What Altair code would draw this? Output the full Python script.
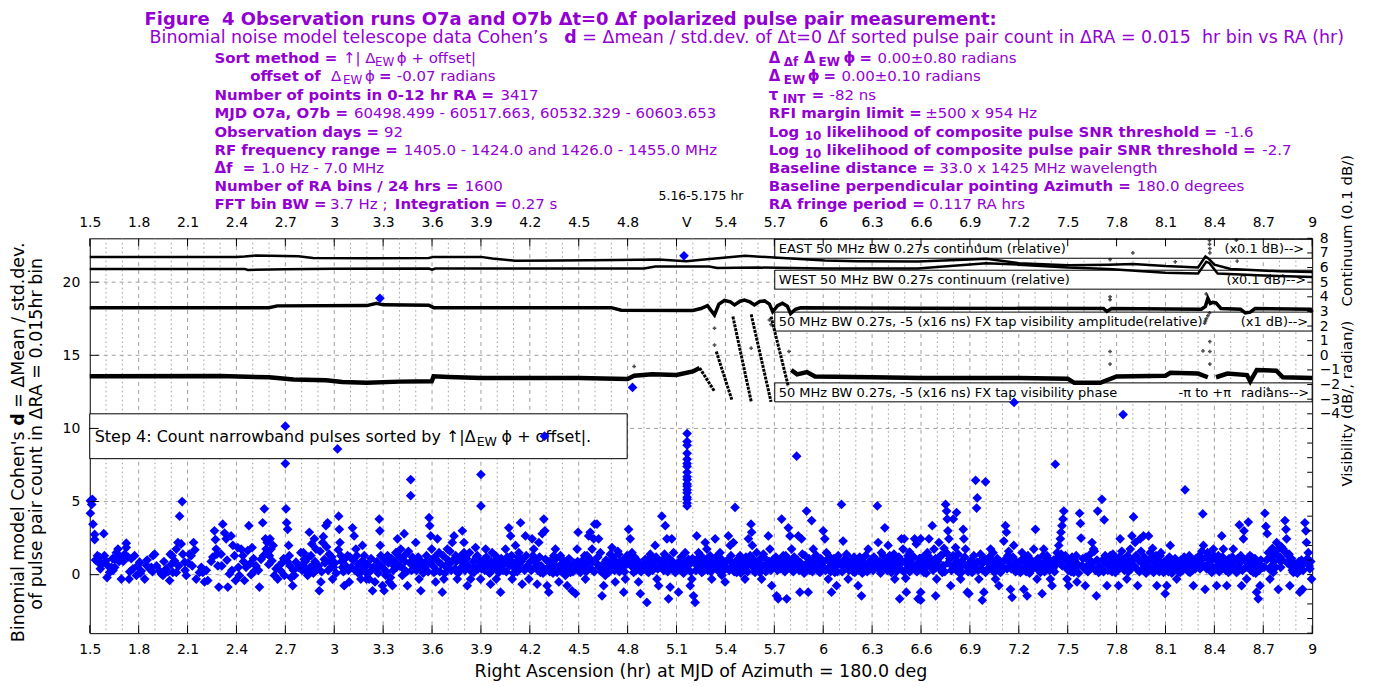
import altair as alt
import pandas as pd

OX, OY = 90, 238          # page position of the plot area
W, H = 1226, 396
PURPLE = '#9400d3'
FONT = 'DejaVu Sans'

# ---------------- Cohen's d scatter (RA hr, d) ----------------
SC_A = [(1.504,5.05),(1.516,5.15),(1.512,4.8),(1.504,4.2),(1.52,3.45),(1.53,2.75),(1.53,2.4),(1.547,1.3),(1.551,0.85),(1.561,1.2),(1.571,0.7),(1.586,2.8),(1.598,0.95),(1.606,-0.2),
(1.622,0.15),(1.633,0.5),(1.643,0.3),(1.653,1.05),(1.663,1.5),(1.673,1.75),(1.684,1.2),(1.694,-0.3),(1.653,0.5),
(1.714,1.4),(1.724,2.15),(1.724,1.85),(1.735,1.2),(1.741,-0.3),(1.755,1.1),(1.765,0.4),(1.786,-0.05),(1.792,0.6),
(1.806,0.85),(1.816,0.25),(1.837,-0.3),(1.847,0.65),(1.867,0.4),(1.878,0.5),(1.888,1.3),(1.898,1.4),
(1.929,0.25),(1.939,0.05),(1.949,-0.05),(1.969,0.4),(1.99,-0.4),(1.994,1.4),(2.0,0.7),
(2.01,0.15),(2.02,0.95),(2.031,1.75),(2.041,2.2),(2.051,4.0),(2.067,5.0),(2.061,2.1),(2.071,1.4),(2.082,0.85),(2.092,-0.05),(2.031,0.15),
(2.112,1.4),(2.122,1.3),(2.129,0.6),(2.137,2.2),(2.153,-0.3),(2.173,0.15),(2.194,0.15),
(2.204,-0.5),(2.224,-0.4),(2.255,1.2),(2.265,3.0),(2.271,2.4),(2.276,1.75),(2.286,0.6),(2.292,-0.85),
(2.306,1.4),(2.316,3.45),(2.327,2.85),(2.337,2.45),(2.347,-0.85),(2.357,0.05),(2.367,2.65),(2.378,2.0),(2.388,1.3),(2.394,-0.4),
(2.408,1.85),(2.418,-0.05),(2.429,1.75),(2.439,1.3),(2.449,-0.4),(2.459,0.5),(2.469,1.65),(2.476,3.35),(2.484,0.75),(2.496,1.85),
(2.51,0.25),(2.52,0.6),(2.541,-0.85),(2.551,1.05),(2.561,3.55),(2.571,4.5),(2.578,2.45),(2.582,1.75),(2.592,1.4),(2.598,0.7),
(2.606,2.45),(2.612,1.75),(2.618,0.95),(2.633,-0.05),(2.643,0.4),(2.653,-0.3),(2.673,0.25),(2.684,0.85),(2.694,-0.05),
(2.7,10.15),(2.7,7.6),(2.704,4.5),(2.708,3.55),(2.714,3.1),(2.72,2.0),(2.724,1.3),(2.729,0.6),(2.735,-0.2),(2.745,-0.75),(2.755,-0.05),(2.765,0.85),
(2.806,0.7),(2.816,1.05),(2.827,0.4),(2.837,-0.05),(2.847,2.9),(2.857,1.3),(2.867,0.6),(2.878,2.45),(2.888,1.75),
(2.908,-1.1),(2.918,-0.5),(2.929,2.2),(2.939,1.05),(2.949,3.35),(2.959,3.55),(2.969,1.4),(2.98,0.5),(2.99,-0.3)]

SC_B = [(3.02,8.6),(3.027,4.0),(3.031,3.1),(3.035,2.2),(3.041,1.3),(3.051,0.5),(3.061,-0.75),(3.082,1.3),(3.092,-0.5),
(3.112,3.2),(3.122,2.65),(3.133,1.75),(3.143,0.15),(3.163,-0.3),(3.173,2.0),(3.184,1.3),(3.194,0.15),
(3.214,-0.3),(3.235,-1.1),(3.255,0.4),(3.276,3.8),(3.28,3.0),(3.282,2.0),(3.286,1.3),(3.296,-0.75),(3.28,18.9),
(3.306,-1.1),(3.316,-0.05),(3.327,1.3),(3.337,-0.5),(3.357,-0.75),(3.367,0.6),(3.378,1.5),(3.388,2.45),
(3.408,1.75),(3.418,-0.05),(3.429,2.8),(3.439,1.4),(3.449,-0.75),(3.469,6.5),(3.469,5.4),(3.48,1.2),(3.49,0.4),(3.5,2.2),
(3.51,0.85),(3.52,-0.3),(3.531,-1.1),(3.541,0.4),(3.561,0.85),(3.582,3.9),(3.586,3.35),(3.592,2.65),(3.598,1.75),
(3.602,1.05),(3.612,0.15),(3.622,-0.5),(3.633,2.45),(3.643,1.5),(3.663,-1.2),(3.673,-0.3),(3.684,0.6),(3.694,1.75),
(3.724,2.2),(3.735,2.65),(3.745,1.3),(3.755,-0.3),(3.786,3.0),
(3.796,2.2),(3.796,1.5),(3.806,0.6),(3.816,-0.75),(3.837,-0.3),(3.857,0.15),(3.867,1.85),(3.878,1.3),(3.888,0.85),(3.9,6.85),(3.9,4.7),(3.898,-0.3),
(3.918,1.05),(3.929,1.75),(3.939,0.6),(3.949,0.15),(3.959,-0.65),(3.969,1.5),(3.98,0.85),(3.99,1.3),(3.994,-0.3),
(4.01,0.15),(4.02,-1.2),(4.031,0.6),(4.051,1.75),(4.071,3.2),(4.082,2.65),(4.088,1.3),(4.092,-0.3),(4.096,0.6),
(4.112,2.0),(4.133,1.5),(4.143,3.55),(4.153,-0.65),(4.163,0.4),(4.173,2.65),(4.184,0.6),(4.194,-0.3),
(4.214,2.45),(4.224,1.75),(4.235,1.05),(4.245,-0.65),(4.255,2.2),(4.265,0.15),(4.276,2.8),(4.286,3.8),(4.292,3.0),(4.296,1.05),(4.29,9.47),
(4.306,-0.75),(4.316,-1.2),(4.327,0.6),(4.347,1.3),(4.357,1.75),(4.367,0.15),(4.378,-0.5),(4.388,1.3),
(4.408,0.6),(4.418,-0.05),(4.429,-0.75),(4.449,0.15),(4.459,-1.1),(4.48,-1.3),(4.49,1.75),(4.496,2.9)]

SC_C = [(4.51,0.15),(4.52,0.85),(4.541,-0.3),(4.551,1.3),(4.561,2.65),(4.571,2.9),(4.582,1.75),(4.592,2.45),(4.598,3.45),
(4.612,3.45),(4.622,2.45),(4.633,1.5),(4.643,-1.45),(4.653,-0.75),(4.663,-0.05),(4.673,0.6),(4.684,0.15),(4.694,1.4),
(4.704,1.85),(4.714,0.6),(4.724,-0.5),(4.745,1.4),(4.765,0.85),(4.776,-1.2),(4.786,-0.3),(4.796,1.3),
(4.806,3.1),(4.816,2.45),(4.827,1.5),(4.837,0.15),(4.847,0.7),(4.867,-0.5),(4.878,-1.3),(4.888,0.4),(4.83,12.8),
(4.908,1.05),(4.918,-1.9),(4.929,0.15),(4.939,1.4),(4.949,0.6),(4.969,2.0),(4.98,-0.3),(4.99,-0.75),
(5.01,4.0),(5.031,3.35),(5.041,2.45),(5.051,-1.65),(5.061,-0.85),(5.071,2.45),(5.082,1.5),(5.092,0.15),
(5.112,-1.2),(5.133,0.6),(5.153,1.5),(5.146,21.8),(5.173,1.05),(5.184,-0.75),(5.194,-0.3),
(5.204,-1.45),(5.214,-1.9),(5.224,2.65),(5.235,1.5),(5.245,0.85),(5.255,0.15),(5.276,2.2),(5.286,1.75),(5.296,0.6),
(5.306,1.3),(5.316,-0.3),(5.337,2.45),(5.347,0.6),(5.367,1.5),(5.378,-0.05),(5.388,0.6),(5.398,-0.5),
(5.418,2.65),(5.429,2.0),(5.439,0.6),(5.449,2.2),(5.459,4.6),(5.469,0.15),(5.49,1.3),
(5.51,0.6),(5.52,-0.3),(5.541,2.45),(5.557,3.45),(5.561,2.9),(5.565,2.0),(5.582,0.15),(5.592,1.5),
(5.612,0.15),(5.622,-0.3),(5.643,0.6),(5.663,2.65),(5.673,1.75),(5.684,-0.75),(5.694,1.05),
(5.714,-1.45),(5.724,-1.65),(5.745,3.8),(5.755,1.3),(5.776,-1.65),(5.786,3.2),(5.796,2.65),
(5.806,1.75),(5.827,0.6),(5.837,8.1),(5.847,2.65),(5.857,-1.2),(5.867,2.45),(5.888,1.3),(5.898,4.35),
(5.908,-1.2),(5.929,3.7),(5.939,1.75),(5.959,1.3),(5.98,0.15),(5.99,0.6),(6.0,3.0)]

SC_D = [(6.01,2.45),(6.02,1.5),(6.031,-0.3),(6.051,-1.2),(6.071,0.15),(6.082,-0.75),(6.092,1.3),
(6.112,4.8),(6.122,2.3),(6.133,1.05),(6.153,-0.3),(6.173,0.6),(6.194,0.15),
(6.214,-0.75),(6.235,-1.45),(6.255,0.6),(6.276,1.75),(6.296,1.05),
(6.332,4.7),(6.337,2.2),(6.357,1.5),(6.378,3.2),(6.388,0.6),(6.398,2.0),
(6.408,1.3),(6.418,0.15),(6.439,-0.3),(6.469,-1.65),(6.48,2.45),(6.49,1.75),
(6.497,2.45),(6.5,0.85),(6.506,-0.25),(6.51,-1.2),(6.53,1.55),(6.561,2.45),(6.571,2.1),(6.582,-1.65),(6.59,1.1),(6.545,0.5),(6.575,0.2),
(6.598,2.45),(6.598,-1.2),(6.598,-1.75),(6.618,0.15),(6.639,1.5),(6.649,2.45),(6.659,0.6),(6.669,3.35),(6.68,1.75),(6.69,-1.45),(6.696,-0.3),
(6.71,2.2),(6.72,1.3),(6.731,0.15),(6.751,4.8),(6.757,4.35),(6.761,3.8),(6.765,3.0),(6.771,2.45),(6.782,-0.75),(6.792,0.6),(6.798,3.8),
(6.812,1.85),(6.818,4.25),(6.833,0.15),(6.843,-0.3),(6.859,3.1),(6.863,2.45),(6.873,1.75),(6.884,-1.2),(6.894,-1.3),
(6.914,0.15),(6.935,6.45),(6.945,5.25),(6.941,4.55),(6.945,0.85),(6.955,-0.3),(6.976,-1.75),(6.986,-1.2),(6.996,6.35),(6.996,0.15),
(7.016,1.05),(7.027,1.75),(7.037,0.4),(7.057,-0.3),(7.078,-0.75),(7.088,0.15),(7.098,0.6),
(7.108,2.3),(7.118,3.35),(7.124,2.9),(7.133,1.3),(7.149,-1.0),(7.159,-1.55),(7.169,2.0),(7.19,0.6),(7.171,11.78),
(7.21,0.15),(7.22,1.5),(7.231,-1.0),(7.251,-1.45),(7.271,0.6),(7.292,1.75),(7.302,3.1),
(7.312,-0.3),(7.333,0.15),(7.343,-1.3),(7.353,1.75),(7.373,1.3),(7.384,0.6),(7.394,-0.3),
(7.404,-0.75),(7.424,7.55),(7.435,1.5),(7.445,2.0),(7.455,2.45),(7.459,2.9),(7.465,3.35),(7.471,3.8),(7.476,4.35),(7.486,1.3),(7.496,-0.3)]

SC_E = [(7.506,-0.75),(7.516,0.85),(7.537,0.15),(7.557,-0.5),(7.573,4.2),(7.578,3.5),(7.582,2.5),(7.588,0.6),
(7.608,-0.75),(7.629,1.05),(7.649,2.2),(7.659,1.75),(7.676,-1.45),(7.684,4.35),(7.69,0.15),
(7.71,5.15),(7.724,3.75),(7.741,-0.75),(7.761,1.3),(7.782,0.6),(7.792,0.15),
(7.812,-0.75),(7.822,2.45),(7.843,1.05),(7.863,-0.3),(7.884,1.75),(7.894,2.65),(7.84,10.95),
(7.904,3.95),(7.914,2.2),(7.929,-0.75),(7.945,2.45),(7.965,2.65),(7.986,0.6),(7.996,2.65),
(8.006,1.5),(8.027,0.15),(8.047,-0.75),(8.067,1.3),(8.088,0.15),(8.098,-1.3),
(8.108,-0.75),(8.129,2.0),(8.149,0.6),(8.169,-0.3),(8.19,0.15),
(8.22,5.8),(8.231,1.05),(8.251,0.15),(8.271,-0.75),(8.292,0.6),
(8.329,4.15),(8.333,2.0),(8.343,-1.0),(8.363,1.3),(8.384,0.15),(8.394,1.75),
(8.414,-0.75),(8.445,2.65),(8.455,1.75),(8.476,-0.75),(8.486,0.15),
(8.516,1.75),(8.537,0.15),(8.553,3.4),(8.567,-0.75),(8.578,2.45),(8.582,3.0),(8.598,-0.3),
(8.608,3.6),(8.618,1.3),(8.639,0.15),(8.659,-1.2),(8.669,-1.65),(8.68,-0.75),(8.69,0.6),
(8.71,4.2),(8.716,3.3),(8.724,2.8),(8.731,1.5),(8.741,-0.3),(8.761,0.15),(8.782,2.2),(8.792,-1.0),
(8.822,1.75),(8.833,3.7),(8.839,3.1),(8.843,2.45),(8.853,1.3),(8.863,-0.75),(8.884,0.15),
(8.914,0.6),(8.924,-1.2),(8.941,-1.0),(8.955,3.55),(8.961,3.0),(8.965,2.2),(8.976,1.5),(8.986,0.4),(8.996,-0.3)]

# dense core of the noise band
CORE_A = [(1.535,1.0),(1.565,0.4),(1.59,1.3),(1.612,0.6),(1.64,1.1),(1.68,0.9),(1.705,0.9),(1.745,0.2),(1.775,1.3),
(1.81,0.1),(1.852,1.0),(1.885,0.2),(1.91,0.6),(1.955,0.9),(1.98,0.2),(2.005,1.3),(2.045,0.6),(2.085,0.3),
(2.105,0.8),(2.145,1.7),(2.185,0.5),(2.215,0.3),(2.245,0.9),(2.28,1.4),(2.31,0.6),(2.342,1.0),(2.372,0.3),
(2.412,0.5),(2.443,0.9),(2.49,0.0),(2.505,1.1),(2.535,0.3),(2.566,1.3),(2.588,2.2),(2.602,1.3),(2.625,2.0),(2.66,0.6),(2.69,1.1),
(2.712,0.9),(2.75,0.3),(2.78,0.5),(2.795,1.5),
(2.803,0.3),(2.811,1.5),(2.822,0.9),(2.832,0.2),(2.842,1.2),(2.852,0.5),(2.862,2.1),(2.872,0.1),(2.882,0.9),(2.895,0.4),
(2.903,0.6),(2.913,1.6),(2.923,0.2),(2.933,2.6),(2.943,0.8),(2.953,1.9),(2.963,0.3),(2.974,0.9),(2.985,1.2),(2.995,0.5)]
CORE_B = [(3.004,0.8),(3.012,0.1),(3.025,1.7),(3.045,0.9),(3.056,0.2),(3.066,1.1),(3.072,0.6),(3.087,0.3),(3.097,1.2),
(3.104,0.5),(3.117,1.0),(3.128,0.3),(3.138,1.3),(3.148,0.7),(3.158,0.1),(3.168,0.9),(3.178,0.4),(3.189,0.8),(3.198,-0.3),
(3.204,0.7),(3.219,0.2),(3.226,1.1),(3.24,0.5),(3.25,-0.5),(3.262,0.9),(3.27,0.1),(3.29,0.6),
(3.302,0.4),(3.312,1.0),(3.322,0.2),(3.332,0.8),(3.345,-0.2),(3.352,1.1),(3.362,0.3),(3.373,0.9),(3.383,0.5),(3.395,1.3),
(3.403,0.6),(3.413,1.1),(3.424,0.4),(3.434,0.9),(3.444,0.2),(3.455,1.6),(3.463,0.8),(3.475,0.3),(3.485,1.0),(3.495,0.6),
(3.505,0.3),(3.515,1.2),(3.526,0.6),(3.536,0.9),(3.546,0.1),(3.556,0.5),(3.566,1.3),(3.576,0.2),(3.588,0.8),
(3.606,0.6),(3.617,1.2),(3.628,0.3),(3.638,0.9),(3.648,0.2),(3.658,0.7),(3.668,1.3),(3.678,0.1),(3.689,0.5),(3.698,1.0),
(3.704,0.7),(3.71,1.6),(3.718,0.3),(3.73,1.0),(3.74,0.4),(3.75,0.9),(3.76,0.1),(3.77,1.2),(3.78,0.5),(3.79,0.8),
(3.802,0.3),(3.811,1.1),(3.822,0.6),(3.83,1.5),(3.842,0.2),(3.852,0.9),(3.862,0.5),(3.872,1.2),(3.883,0.4),(3.893,0.9),
(3.904,0.4),(3.913,0.9),(3.924,0.3),(3.934,1.2),(3.944,0.7),(3.954,0.1),(3.964,0.9),(3.975,0.4),(3.985,0.6),(3.997,1.0),
(4.004,0.8),(4.015,0.4),(4.025,1.1),(4.036,0.3),(4.046,0.8),(4.056,0.2),(4.062,1.2),(4.076,0.6),(4.087,0.9),(4.099,0.1),
(4.104,0.5),(4.117,0.9),(4.123,0.2),(4.128,1.2),(4.138,0.6),(4.148,0.9),(4.158,1.1),(4.168,0.3),(4.178,1.3),(4.189,0.5),
(4.204,0.9),(4.209,0.3),(4.219,1.3),(4.229,0.5),(4.24,0.8),(4.25,0.3),(4.26,1.2),(4.27,0.6),(4.281,0.1),
(4.302,0.4),(4.311,0.9),(4.322,0.2),(4.332,1.0),(4.337,0.5),(4.342,0.1),(4.352,0.7),(4.362,1.1),(4.373,0.3),(4.383,0.6),(4.394,0.2),
(4.403,1.0),(4.413,0.3),(4.424,0.8),(4.434,0.4),(4.44,1.1),(4.454,0.6),(4.465,0.2),(4.47,0.8),(4.485,0.4),(4.493,0.9)]
CORE_C = [(4.505,0.6),(4.515,0.3),(4.526,1.0),(4.531,0.5),(4.536,1.3),(4.546,0.2),(4.556,0.8),(4.566,1.1),(4.577,0.4),(4.587,0.9),(4.595,0.2),
(4.607,0.8),(4.617,1.2),(4.627,0.5),(4.638,0.2),(4.648,0.7),(4.658,0.4),(4.668,1.0),(4.679,0.3),(4.689,0.8),(4.698,0.6),
(4.709,1.2),(4.719,0.3),(4.729,0.9),(4.735,0.5),(4.74,1.6),(4.75,0.2),(4.755,0.9),(4.76,0.5),(4.77,1.0),(4.781,0.2),(4.791,0.7),
(4.803,0.8),(4.811,1.3),(4.822,0.6),(4.832,0.9),(4.842,1.2),(4.852,0.3),(4.857,1.0),(4.862,0.5),(4.872,0.8),(4.883,0.2),(4.893,0.6),
(4.903,0.4),(4.913,0.8),(4.923,0.2),(4.934,1.1),(4.944,0.5),(4.954,0.3),(4.959,0.9),(4.964,0.6),(4.975,1.2),(4.985,0.4),(4.995,0.9),
(5.004,0.6),(5.015,1.0),(5.021,0.3),(5.026,1.4),(5.036,0.7),(5.046,0.2),(5.056,1.1),(5.066,0.5),(5.076,0.9),(5.087,0.3),(5.097,0.7),
(5.104,0.3),(5.117,0.9),(5.122,0.4),(5.128,1.2),(5.138,0.6),(5.143,0.1),(5.148,0.8),(5.158,0.4),(5.178,0.7),(5.188,0.2),(5.198,1.1),
(5.209,0.8),(5.219,0.3),(5.229,1.1),(5.24,0.6),(5.25,1.3),(5.26,0.2),(5.265,0.8),(5.27,0.4),(5.28,1.0),(5.291,0.3),
(5.302,0.7),(5.311,0.2),(5.322,1.0),(5.332,0.5),(5.342,1.2),(5.352,0.3),(5.357,0.9),(5.362,0.5),(5.372,1.1),(5.383,0.2),(5.393,0.8),
(5.403,0.5),(5.413,1.0),(5.424,0.3),(5.434,1.3),(5.444,0.8),(5.454,0.2),(5.464,0.9),(5.474,0.4),(5.48,1.1),(5.485,0.6),(5.495,0.1),
(5.505,0.9),(5.515,0.4),(5.526,1.2),(5.531,0.6),(5.536,0.2),(5.546,0.8),(5.552,1.3),(5.57,0.5),(5.577,1.0),(5.587,0.3),(5.597,0.7),
(5.607,0.8),(5.617,1.1),(5.627,0.4),(5.633,1.4),(5.638,0.6),(5.648,0.2),(5.653,1.0),(5.658,0.5),(5.668,0.9),(5.679,0.3),(5.689,0.6),
(5.704,0.6),(5.709,1.2),(5.719,0.3),(5.729,0.8),(5.735,0.4),(5.74,1.1),(5.75,0.5),(5.76,0.9),(5.765,0.2),(5.77,1.3),(5.781,0.6),(5.791,1.0),
(5.801,0.4),(5.811,0.9),(5.817,0.2),(5.822,1.2),(5.832,0.6),(5.842,1.0),(5.852,0.3),(5.862,0.8),(5.872,1.4),(5.878,0.5),(5.883,0.1),(5.893,0.7),
(5.903,0.6),(5.913,1.1),(5.918,0.3),(5.924,0.8),(5.934,0.2),(5.944,1.0),(5.949,0.5),(5.954,1.3),(5.964,0.4),(5.97,0.9),(5.975,0.2),(5.985,1.1),(5.995,0.6)]
CORE_D = [(6.004,0.9),(6.015,0.3),(6.025,1.0),(6.036,0.5),(6.041,1.2),(6.046,0.2),(6.056,0.8),(6.062,0.4),(6.066,1.1),(6.076,0.6),(6.087,0.2),(6.097,0.9),
(6.104,0.7),(6.117,0.2),(6.128,1.0),(6.138,0.5),(6.143,1.4),(6.148,0.8),(6.158,0.3),(6.163,1.1),(6.168,0.6),(6.178,0.9),(6.184,0.2),(6.189,1.2),(6.199,0.5),
(6.204,0.5),(6.209,1.0),(6.219,0.3),(6.224,1.2),(6.229,0.7),(6.24,0.1),(6.245,0.9),(6.25,0.4),(6.26,1.3),(6.265,0.6),(6.27,0.2),(6.281,0.8),(6.291,0.4),
(6.302,0.8),(6.307,0.3),(6.311,1.2),(6.322,0.6),(6.327,1.0),(6.342,0.4),(6.347,0.9),(6.352,0.1),(6.362,0.7),(6.368,1.3),(6.373,0.5),(6.383,1.0),(6.393,0.3),
(6.403,0.6),(6.413,1.1),(6.424,0.3),(6.429,0.8),(6.434,1.4),(6.444,0.5),(6.449,0.2),(6.454,1.0),(6.459,0.6),(6.464,1.2),(6.474,0.4),(6.485,0.9),(6.495,0.2),
(6.505,0.9),(6.515,0.4),(6.52,1.3),(6.526,0.7),(6.531,0.2),(6.536,1.0),(6.55,0.6),(6.556,1.2),(6.566,0.3),(6.58,0.8),(6.587,0.4),(6.595,1.1),
(6.604,0.7),(6.612,1.2),(6.622,0.4),(6.627,0.9),(6.632,0.1),(6.643,1.3),(6.654,0.6),(6.664,1.0),(6.674,0.3),(6.684,0.8),(6.69,1.1),(6.693,0.5),
(6.704,0.9),(6.715,0.4),(6.725,1.3),(6.736,0.6),(6.741,1.8),(6.746,0.2),(6.756,1.5),(6.766,0.8),(6.776,1.1),(6.787,0.3),(6.797,1.3),
(6.804,0.6),(6.808,1.1),(6.817,0.3),(6.822,0.9),(6.828,1.4),(6.838,0.5),(6.848,0.9),(6.853,0.2),(6.868,1.2),(6.878,0.6),(6.889,0.2),(6.898,0.8),
(6.904,0.4),(6.909,1.0),(6.919,0.5),(6.924,1.3),(6.93,0.7),(6.95,0.3),(6.96,0.9),(6.965,1.4),(6.97,0.4),(6.98,0.8),(6.991,1.1),
(7.004,0.9),(7.01,0.4),(7.02,1.2),(7.031,0.6),(7.042,1.5),(7.047,0.2),(7.052,0.9),(7.062,0.3),(7.068,1.1),(7.072,0.6),(7.083,0.9),(7.093,0.3),
(7.104,0.5),(7.113,1.0),(7.128,0.4),(7.138,1.6),(7.143,0.8),(7.154,0.4),(7.164,1.2),(7.174,0.6),(7.18,0.2),(7.184,0.9),(7.195,0.3),
(7.204,0.8),(7.214,0.3),(7.225,1.1),(7.235,0.5),(7.24,0.9),(7.245,0.2),(7.256,1.3),(7.261,0.6),(7.266,0.1),(7.276,1.0),(7.286,0.4),(7.296,0.8),
(7.306,0.6),(7.317,1.1),(7.322,0.3),(7.328,0.8),(7.338,0.5),(7.348,1.3),(7.358,0.2),(7.363,0.9),(7.368,0.6),(7.378,1.1),(7.389,0.3),(7.398,0.7),
(7.409,0.4),(7.414,1.0),(7.419,0.2),(7.43,0.7),(7.44,1.2),(7.45,0.8),(7.46,1.4),(7.467,0.6),(7.48,1.1),(7.49,0.5),(7.498,0.9)]
CORE_E = [(7.503,0.3),(7.511,0.9),(7.521,0.2),(7.527,1.2),(7.532,0.6),(7.542,1.0),(7.547,0.4),(7.552,1.3),(7.562,0.7),(7.567,0.1),(7.593,1.1),(7.598,0.5),
(7.603,0.4),(7.613,1.2),(7.619,0.6),(7.624,0.2),(7.634,0.9),(7.639,1.4),(7.644,0.5),(7.654,0.8),(7.664,1.6),(7.67,0.3),(7.68,1.0),(7.695,0.6),
(7.705,0.4),(7.715,1.0),(7.72,0.2),(7.73,1.3),(7.736,0.7),(7.746,0.3),(7.751,1.1),(7.756,0.5),(7.766,0.9),(7.772,0.2),(7.777,1.4),(7.787,0.6),(7.797,1.0),
(7.803,0.8),(7.807,0.3),(7.817,1.2),(7.827,0.5),(7.832,1.6),(7.838,0.9),(7.848,0.3),(7.853,1.1),(7.858,0.6),(7.868,1.3),(7.873,0.2),(7.878,0.8),(7.889,0.4),(7.899,1.0),
(7.909,0.6),(7.919,1.3),(7.924,0.4),(7.935,1.0),(7.94,0.2),(7.95,1.6),(7.955,0.8),(7.96,0.4),(7.97,1.2),(7.976,0.6),(7.981,0.1),(7.991,0.9),
(8.002,0.5),(8.011,1.1),(8.016,0.3),(8.021,1.8),(8.032,0.8),(8.037,0.4),(8.042,1.3),(8.052,0.6),(8.057,1.0),(8.062,0.2),(8.072,1.5),(8.078,0.7),(8.083,0.3),(8.093,0.9),
(8.103,0.4),(8.113,0.9),(8.118,0.2),(8.124,1.2),(8.134,0.6),(8.139,0.1),(8.144,0.9),(8.154,0.4),(8.159,1.1),(8.164,0.6),(8.174,0.9),(8.18,0.2),(8.185,0.7),(8.195,1.0),
(8.205,0.3),(8.21,0.8),(8.215,1.2),(8.226,0.5),(8.236,0.9),(8.241,0.2),(8.246,1.3),(8.256,0.6),(8.261,1.0),(8.266,0.3),(8.276,0.8),(8.282,0.4),(8.287,1.1),(8.297,0.6),
(8.302,0.7),(8.307,1.3),(8.312,0.4),(8.318,1.0),(8.323,1.6),(8.338,0.6),(8.348,1.2),(8.353,0.4),(8.358,1.5),(8.368,0.8),(8.374,0.3),(8.379,1.0),(8.389,0.5),(8.398,1.3),
(8.404,0.4),(8.409,1.0),(8.419,0.6),(8.424,1.3),(8.43,0.2),(8.435,0.9),(8.44,0.5),(8.45,1.2),(8.46,0.6),(8.465,1.0),(8.47,0.3),(8.48,0.8),(8.49,1.1),(8.496,0.4),
(8.503,0.6),(8.51,1.2),(8.521,0.4),(8.526,0.9),(8.531,0.2),(8.542,1.1),(8.547,0.5),(8.557,0.8),(8.562,1.3),(8.572,0.3),(8.588,1.0),(8.593,0.5),
(8.603,0.6),(8.613,1.0),(8.623,0.3),(8.628,1.2),(8.634,0.7),(8.644,0.4),(8.649,1.1),(8.654,0.1),(8.664,0.8),(8.675,0.3),(8.685,1.0),(8.695,0.5),
(8.705,0.5),(8.72,1.0),(8.736,0.4),(8.746,1.2),(8.751,0.6),(8.756,1.8),(8.766,0.9),(8.771,1.4),(8.776,0.5),(8.787,1.7),(8.797,1.0),
(8.803,1.2),(8.807,0.5),(8.812,1.9),(8.817,1.0),(8.828,1.6),(8.848,0.8),(8.858,1.4),(8.868,0.6),(8.873,1.1),(8.878,0.3),(8.889,0.8),(8.894,0.2),
(8.903,0.6),(8.909,0.1),(8.919,0.9),(8.929,0.4),(8.934,1.0),(8.945,0.3),(8.95,0.8),(8.971,1.1),(8.981,0.6),(8.991,0.9)]
COL_RA = 5.165   # the 5.16-5.175 hr bin
COL_D = [9.65, 9.1, 8.85, 8.3, 7.9, 7.6, 7.4, 7.0, 6.7, 6.5, 6.2, 6.05, 5.8, 5.6, 5.3, 5.15, 4.9, 4.7]

# ---------------- right-axis traces (continuum 0.1 dB, visibility dB / radian) ----------------
EAST_RA = [1.5,2.4,2.45,2.52,2.6,2.78,2.87,3.2,3.58,3.61,3.9,3.97,4.11,4.38,4.74,4.99,5.16,5.27,5.52,5.70,
           6.01,6.21,6.58,6.9,7.0,7.2,7.5,7.75,7.9,8.1,8.3,8.345,8.365,8.4,8.5,8.8,9.0]
EAST_V = [6.73,6.73,6.76,6.82,6.8,6.78,6.66,6.64,6.66,6.73,6.73,6.62,6.46,6.48,6.51,6.55,6.44,6.55,6.80,6.69,
          6.48,6.44,6.42,6.55,6.6,6.3,6.15,6.2,6.25,6.1,6.0,6.75,6.6,6.2,5.9,5.75,5.7]
WEST_RA = [1.5,2.45,2.47,2.7,3.0,3.58,3.6,3.62,4.9,4.97,5.3,5.35,5.6,6.0,6.58,7.0,7.2,7.5,7.75,8.1,8.3,8.35,8.37,8.42,8.7,9.0]
WEST_V = [5.91,5.91,5.84,5.88,5.92,5.93,5.85,5.93,5.94,6.07,6.07,5.97,6.0,5.94,5.94,6.3,6.2,6.0,5.9,5.65,5.6,6.4,6.3,5.6,5.45,5.35]
AMP_RA = [1.5,2.6,2.65,3.2,3.26,3.3,3.58,3.61,4.7,4.76,5.2,5.25,5.29,5.333,5.36,5.394,5.43,5.456,5.49,5.517,
          5.55,5.578,5.61,5.64,5.67,5.69,5.72,5.75,5.78,5.80,5.83,5.86,6.6,7.72,7.74,7.77,8.32,8.345,8.36,8.375,
          8.39,8.41,8.44,8.56,8.59,8.62,8.65,8.99,9.0]
AMP_V = [3.26,3.26,3.38,3.4,3.55,3.45,3.42,3.26,3.26,3.08,3.06,3.2,3.4,2.76,3.5,3.75,3.65,3.45,3.7,3.78,
         3.65,3.45,3.68,3.72,3.5,2.98,3.4,3.56,3.35,2.85,3.15,3.25,3.22,3.2,3.0,3.2,3.15,3.35,3.9,3.55,
         3.62,3.58,3.2,3.15,2.9,2.95,3.2,3.15,2.95]
PHASE_1 = [(1.5,-1.44),(2.3,-1.42),(2.6,-1.5),(2.75,-1.65),(2.95,-1.7),(3.05,-1.82),(3.2,-1.88),(3.4,-1.8),(3.598,-1.78),
           (3.61,-1.44),(3.7,-1.48),(3.9,-1.55),(4.5,-1.55),(4.8,-1.62),(4.84,-1.4),(4.95,-1.3),(5.1,-1.35),(5.2,-1.1),(5.242,-0.87)]
PHASE_2 = [(5.804,-1.0),(5.84,-1.3),(5.9,-1.15),(5.95,-1.45),(6.3,-1.5),(6.6,-1.55),(7.0,-1.55),(7.2,-1.55),(7.5,-1.6),
           (7.54,-1.88),(7.7,-1.88),(7.8,-1.45),(8.1,-1.4),(8.13,-1.2),(8.3,-1.25),(8.36,-1.5)]
PHASE_3 = [(8.41,-1.5),(8.48,-1.25),(8.6,-1.35),(8.62,-1.78),(8.66,-1.0),(8.78,-1.05),(8.82,-1.5),(9.0,-1.55)]
STREAKS = [(5.242,-0.87,5.333,-2.46),(5.344,0.26,5.439,-3.03),(5.446,2.65,5.558,-3.15),
           (5.558,2.8,5.68,-3.19),(5.68,2.65,5.786,-2.12)]
MISC = [(8.37,7.85),(8.37,7.6),(8.372,7.3),(8.372,7.0),(8.535,7.87),(8.54,6.44),(6.955,7.53),(7.76,6.55),(7.90,7.0),
        (8.16,6.39),(7.76,4.0),(7.76,3.8),(8.34,2.2),(8.345,2.35),(8.35,2.5),(8.36,2.7),(8.37,2.9),(8.35,4.2),
        (7.76,0.26),(7.76,-0.6),(8.33,0.3),(8.372,0.94),(8.372,0.26),(8.372,-0.6),(5.79,0.26),(4.84,-0.76),
        (5.333,1.85),(5.333,0.7),(5.558,0.49),(5.67,2.42),(5.68,2.1),(8.73,-2.3)]

# ---------------- axis ticks ----------------
XT = [1.5,1.8,2.1,2.4,2.7,3.0,3.3,3.6,3.9,4.2,4.5,4.8,5.1,5.4,5.7,6.0,6.3,6.6,6.9,7.2,7.5,7.8,8.1,8.4,8.7,9.0]
XT_TOP = [v for v in XT if v != 5.1] + [5.16]
XMINOR = [round(1.5 + 0.1 * i, 1) for i in range(1, 75) if i % 3 != 0]
YT_LEFT = [0, 5, 10, 15, 20]
YT_RIGHT = list(range(-19, 9))

xs = alt.Scale(domain=[1.5, 9.0], nice=False, zero=False)
yl = alt.Scale(domain=[-4, 23], nice=False, zero=False)
yr = alt.Scale(domain=[-19, 8], nice=False, zero=False)
LBL = "abs(datum.value-5.16)<0.001 ? 'V' : replace(format(datum.value,'.1f'),'.0','')"

layers = []
GRID = '#a0a0a0'
layers.append(alt.Chart(pd.DataFrame({'ra': XMINOR})).mark_rule(color=GRID, strokeDash=[1.5, 3], strokeWidth=1)
              .encode(x=alt.X('ra:Q', scale=xs, axis=None)))
layers.append(alt.Chart(pd.DataFrame({'ra': XT[1:-1]})).mark_rule(color=GRID, strokeDash=[4, 4], strokeWidth=1)
              .encode(x=alt.X('ra:Q', scale=xs, axis=None)))
layers.append(alt.Chart(pd.DataFrame({'d': YT_LEFT})).mark_rule(color=GRID, strokeDash=[4, 4], strokeWidth=1)
              .encode(y=alt.Y('d:Q', scale=yl, axis=None)))

# annotation boxes (page pixel coordinates)
BOXES = pd.DataFrame({'x0': [777, 777, 777, 777, 90], 'x1': [1316, 1316, 1316, 1316, 629],
                      'y0': [239, 270, 312, 383, 414], 'y1': [258, 289, 331, 402, 459]})
BOXES[['x0', 'x1']] -= OX
BOXES[['y0', 'y1']] -= OY
layers.append(alt.Chart(BOXES).mark_rect(fill='white', stroke='black', strokeWidth=1).encode(
    x=alt.X('x0:Q', scale=None, axis=None), x2='x1:Q', y=alt.Y('y0:Q', scale=None, axis=None), y2='y1:Q'))


def T(x, y, s, size=15, bold=False, color=PURPLE, align='left', angle=0):
    return alt.Chart(pd.DataFrame({'t': [s]})).mark_text(
        font=FONT, fontSize=size, fontWeight='bold' if bold else 'normal', color=color,
        align=align, baseline='middle', angle=angle).encode(
        x=alt.value(x - OX), y=alt.value(y - OY), text='t:N')


K = 'black'
box_texts = [
    T(781, 249, 'EAST 50 MHz BW 0.27s continuum (relative)', 13, color=K),
    T(1308, 249, '(x0.1 dB)-->', 13, color=K, align='right'),
    T(781, 280, 'WEST 50 MHz BW 0.27s continuum (relative)', 13, color=K),
    T(1310, 280, '(x0.1 dB)-->', 13, color=K, align='right'),
    T(781, 322, '50 MHz BW 0.27s, -5 (x16 ns) FX tap visibility amplitude(relative)', 13, color=K),
    T(1312, 322, '(x1 dB)-->', 13, color=K, align='right'),
    T(781, 393, '50 MHz BW 0.27s, -5 (x16 ns) FX tap visibility phase', 13, color=K),
    T(1182, 393, '-\u03c0 to +\u03c0', 13, color=K),
    T(1313, 393, 'radians-->', 13, color=K, align='right'),
    T(95, 437, 'Step 4: Count narrowband pulses sorted by \u2191|\u0394', 16, color=K),
    T(478, 442, 'EW', 12.5, color=K),
    T(503, 437, '\u03d5 + offset|.', 16, color=K),
]
layers += box_texts

# traces
df_east = pd.DataFrame({'ra': EAST_RA, 'v': EAST_V})
df_west = pd.DataFrame({'ra': WEST_RA, 'v': WEST_V})
df_amp = pd.DataFrame({'ra': AMP_RA, 'v': AMP_V})
df_phase = pd.DataFrame([(a, b, 1) for a, b in PHASE_1] + [(a, b, 2) for a, b in PHASE_2] +
                        [(a, b, 3) for a, b in PHASE_3], columns=['ra', 'v', 'seg'])
df_streak = pd.DataFrame(STREAKS, columns=['ra0', 'v0', 'ra1', 'v1'])
df_misc = pd.DataFrame(MISC, columns=['ra', 'v'])

AX = dict(labelFont=FONT, labelFontSize=14, labelColor='black', grid=False, ticks=False, tickSize=0,
          domain=False, title=None, labelOverlap=False)

layers.append(alt.Chart(df_east).mark_line(color='black', strokeWidth=2.5).encode(
    x=alt.X('ra:Q', scale=xs, axis=alt.Axis(orient='top', values=XT_TOP, labelExpr=LBL, labelPadding=9,
                                           labelFlush=False, **AX)),
    y=alt.Y('v:Q', scale=yr, axis=alt.Axis(orient='right', values=YT_RIGHT,
                                          labelExpr="datum.value >= -4 ? datum.label : ''", labelPadding=7, **AX))))
layers.append(alt.Chart(df_west).mark_line(color='black', strokeWidth=2.5).encode(
    x=alt.X('ra:Q', scale=xs, axis=None), y=alt.Y('v:Q', scale=yr, axis=None)))
layers.append(alt.Chart(df_amp).mark_line(color='black', strokeWidth=3.5).encode(
    x=alt.X('ra:Q', scale=xs, axis=None), y=alt.Y('v:Q', scale=yr, axis=None)))
layers.append(alt.Chart(df_phase).mark_line(color='black', strokeWidth=4.5).encode(
    x=alt.X('ra:Q', scale=xs, axis=None), y=alt.Y('v:Q', scale=yr, axis=None), detail='seg:N'))
layers.append(alt.Chart(df_streak).mark_rule(color='black', strokeWidth=3, strokeDash=[3, 1]).encode(
    x=alt.X('ra0:Q', scale=xs, axis=None), x2='ra1:Q', y=alt.Y('v0:Q', scale=yr, axis=None), y2='v1:Q'))
layers.append(alt.Chart(df_misc).mark_point(shape='cross', filled=True, size=14, color='black').encode(
    x=alt.X('ra:Q', scale=xs, axis=None), y=alt.Y('v:Q', scale=yr, axis=None)))

# blue diamonds
pts = SC_A + SC_B + SC_C + SC_D + SC_E + CORE_A + CORE_B + CORE_C + CORE_D + CORE_E + [(COL_RA, v) for v in COL_D]
df_sc = pd.DataFrame(pts, columns=['ra', 'd'])
layers.append(alt.Chart(df_sc).mark_point(shape='diamond', filled=True, size=95, color='#0000ff', opacity=1).encode(
    x=alt.X('ra:Q', scale=xs, axis=alt.Axis(orient='bottom', values=XT, labelExpr=LBL, labelPadding=9,
                                           labelFlush=False, **AX)),
    y=alt.Y('d:Q', scale=yl, axis=alt.Axis(orient='left', values=YT_LEFT, labelPadding=10, **AX))))

# inward tick marks
layers.append(alt.Chart(pd.DataFrame({'ra': XT})).mark_rule(color='black').encode(
    x=alt.X('ra:Q', scale=xs, axis=None), y=alt.value(H - 8), y2=alt.value(H)))
layers.append(alt.Chart(pd.DataFrame({'ra': XT})).mark_rule(color='black').encode(
    x=alt.X('ra:Q', scale=xs, axis=None), y=alt.value(0), y2=alt.value(8)))
layers.append(alt.Chart(pd.DataFrame({'d': YT_LEFT})).mark_rule(color='black').encode(
    y=alt.Y('d:Q', scale=yl, axis=None), x=alt.value(0), x2=alt.value(9)))
layers.append(alt.Chart(pd.DataFrame({'v': YT_RIGHT})).mark_rule(color='black').encode(
    y=alt.Y('v:Q', scale=yr, axis=None), x=alt.value(W - 5), x2=alt.value(W)))

# header and axis titles
NB = '\u00a0'
S = 12   # subscript size
D = 4    # subscript drop
texts = [
    T(145, 19, 'Figure' + NB + NB + '4 Observation runs O7a and O7b \u0394t=0 \u0394f polarized pulse pair measurement:', 18, True),
    T(150, 37, 'Binomial noise model telescope data Cohen\u2019s', 17.5),
    T(566, 37, 'd', 17.5, True),
    T(584, 37, '= \u0394mean / std.dev. of \u0394t=0 \u0394f sorted pulse pair count in \u0394RA = 0.015' + NB + NB + 'hr bin vs RA (hr)', 17.5),
    # left block
    T(215, 57, 'Sort method =', 15, True), T(344, 57, '\u2191| \u0394'), T(376, 57 + D, 'EW', S), T(398, 57, '\u03d5 + offset|'),
    T(251, 75, 'offset of', 15, True), T(332, 75, '\u0394'), T(344, 75 + D, 'EW', S), T(366, 75, '\u03d5'),
    T(380, 75, '=', 15, True), T(398, 75, '-0.07 radians'),
    T(215, 94, 'Number of points in 0-12 hr RA =', 15, True), T(502, 94, '3417'),
    T(215, 112, 'MJD O7a, O7b =', 15, True), T(355, 112, '60498.499 - 60517.663, 60532.329 - 60603.653'),
    T(215, 131, 'Observation days =', 15, True), T(385, 131, '92'),
    T(215, 149, 'RF frequency range =', 15, True), T(405, 149, '1405.0 - 1424.0 and 1426.0 - 1455.0 MHz'),
    T(215, 167, '\u0394f' + NB + NB + '=', 15, True), T(262, 167, '1.0 Hz - 7.0 MHz'),
    T(215, 186, 'Number of RA bins / 24 hrs =', 15, True), T(466, 186, '1600'),
    T(215, 204, 'FFT bin BW =', 15, True), T(331, 204, '3.7 Hz ;'), T(396, 204, 'Integration =', 15, True), T(513, 204, '0.27 s'),
    # right block
    T(771, 57, '\u0394', 15, True), T(786, 57 + D, '\u0394f', S, True), T(806, 57, '\u0394', 15, True), T(821, 57 + D, 'EW', S, True),
    T(846, 57, '\u03d5', 15, True), T(862, 57, '=', 15, True), T(880, 57, '0.00\u00b10.80 radians'),
    T(771, 75, '\u0394', 15, True), T(786, 75 + D, 'EW', S, True), T(810, 75, '\u03d5', 15, True), T(826, 75, '=', 15, True),
    T(844, 75, '0.00\u00b10.10 radians'),
    T(771, 94, '\u03c4', 15, True), T(785, 94 + D, 'INT', S, True), T(814, 94, '=', 15, True), T(832, 94, '-82 ns'),
    T(771, 112, 'RFI margin limit =', 15, True), T(928, 112, '\u00b1500 x 954 Hz'),
    T(771, 131, 'Log', 15, True), T(807, 131 + D, '10', S, True),
    T(829, 131, 'likelihood of composite pulse SNR threshold =', 15, True), T(1228, 131, '-1.6'),
    T(771, 149, 'Log', 15, True), T(807, 149 + D, '10', S, True),
    T(829, 149, 'likelihood of composite pulse pair SNR threshold =', 15, True), T(1266, 149, '-2.7'),
    T(771, 167, 'Baseline distance =', 15, True), T(942, 167, '33.0 x 1425 MHz wavelength'),
    T(771, 186, 'Baseline perpendicular pointing Azimuth =', 15, True), T(1140, 186, '180.0 degrees'),
    T(771, 204, 'RA fringe period =', 15, True), T(932, 204, '0.117 RA hrs'),
    # axis annotations
    T(703, 196, '5.16-5.175 hr', 12.5, color=K, align='center'),
    T(703, 673, 'Right Ascension (hr) at MJD of Azimuth = 180.0 deg', 17.5, color=K, align='center'),
    T(19, 643, "Binomial model Cohen's", 17.5, color=K, angle=270),
    T(19, 426, 'd', 17.5, True, color=K, angle=270),
    T(19, 408, '= \u0394Mean / std.dev.', 17.5, color=K, angle=270),
    T(37, 434, 'of pulse pair count in \u0394RA = 0.015hr bin', 17.5, color=K, align='center', angle=270),
    T(1351, 487, 'Visibility (dB/, radian/)' + NB * 3 + 'Continuum (0.1 dB/)', 15, color=K, angle=270),
]
layers += texts

chart = alt.layer(*layers).resolve_scale(x='independent', y='independent').resolve_axis(
    x='independent', y='independent').properties(
    width=W, height=H, autosize=alt.AutoSizeParams(type='none'),
    padding={'left': OX - 8, 'top': OY - 8, 'right': 60, 'bottom': 50}
).configure_view(stroke='black', strokeWidth=1)

chart.save('out.html', embed_options={'renderer': 'svg', 'actions': False})
